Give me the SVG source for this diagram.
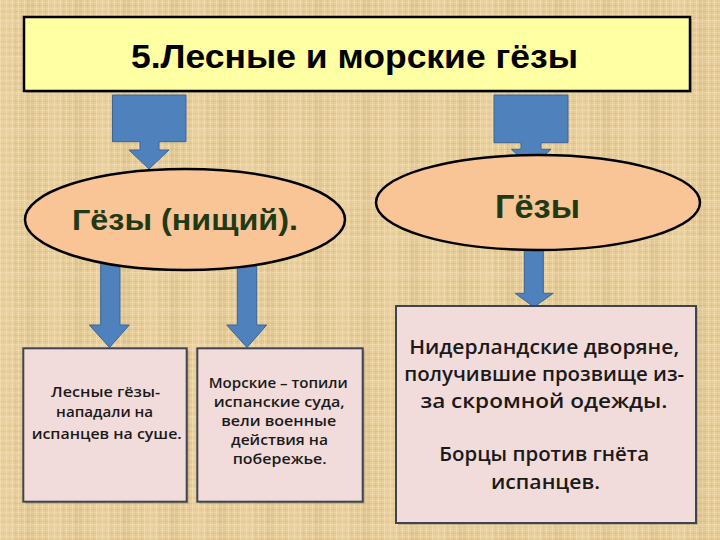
<svg xmlns="http://www.w3.org/2000/svg" width="720" height="540" viewBox="0 0 720 540">
  <defs>
    <pattern id="weave" width="6" height="6" patternUnits="userSpaceOnUse">
      <rect width="6" height="6" fill="#E7CC97"/>
      <rect x="0" y="0" width="1" height="6" fill="#F3E0B8" opacity="0.7"/>
      <rect x="3" y="0" width="1" height="6" fill="#D8BA83" opacity="0.35"/>
      <rect x="0" y="2" width="6" height="1" fill="#F1DCB0" opacity="0.5"/>
      <rect x="0" y="5" width="6" height="1" fill="#D5B57C" opacity="0.35"/>
    </pattern>
    <pattern id="blotch" width="48" height="36" patternUnits="userSpaceOnUse">
      <rect x="0" y="0" width="14" height="36" fill="#F2DDB0" opacity="0.25"/>
      <rect x="27" y="0" width="6" height="36" fill="#CFAE73" opacity="0.18"/>
      <rect x="0" y="20" width="48" height="5" fill="#F4E2BC" opacity="0.2"/>
    </pattern>
  </defs>
  <style>
    .arrow { fill: #4F81BD; stroke: #3B6597; stroke-width: 1; }
    .title { fill: #FFFFA3; stroke: #000; stroke-width: 2.5; }
    .oval { fill: #F9C597; stroke: #000; stroke-width: 2.5; }
    .box { fill: #F2DCDB; stroke: #3F4450; stroke-width: 2; }
    .shadow { fill: #7A6A50; opacity: 0.35; }
    .head { font-family: "Liberation Sans", Arial, sans-serif; font-weight: bold; text-anchor: middle; }
    .ov { font-family: "Liberation Sans", Arial, sans-serif; font-weight: bold; text-anchor: middle; fill: #1F3A17; }
    .bt { font-family: "Open Sans", "Noto Sans", "DejaVu Sans", sans-serif; font-weight: 600; text-anchor: middle; fill: #1A1A1A; }
  </style>

  <rect width="720" height="540" fill="url(#weave)"/>
  <rect width="720" height="540" fill="url(#blotch)"/>

  <g id="connectors">
    <path class="arrow" d="M112.5,95 H186 V141.7 H159 V150 H169 L149,169 L129,150 H140 V141.7 H112.5 Z"/>
    <path class="arrow" d="M494,95 H568 V142.7 H541 V149.3 H551 L531,168 L511.5,149.3 H521 V142.7 H494 Z"/>
    <path class="arrow" d="M100.7,262 H120 V325 H129.3 L109.5,347.5 L89.3,325 H100.7 Z"/>
    <path class="arrow" d="M237.3,262 H256.7 V325 H266.7 L247,347.5 L226.7,325 H237.3 Z"/>
    <path class="arrow" d="M524.3,245 H543.3 V293.3 H553.3 L534,307 L515,293.3 H524.3 Z"/>
  </g>

  <g id="title">
    <rect class="shadow" x="26" y="19" width="666" height="74"/>
    <rect class="title" x="24" y="17" width="666" height="74"/>
    <text class="head" x="354.5" y="68" font-size="33" textLength="447" lengthAdjust="spacingAndGlyphs">5.Лесные и морские гёзы</text>
  </g>

  <g id="oval-left">
    <ellipse class="oval" cx="185" cy="219.5" rx="160" ry="50.5"/>
    <text class="ov" x="185" y="230" font-size="30" textLength="226" lengthAdjust="spacingAndGlyphs">Гёзы (нищий).</text>
  </g>

  <g id="oval-right">
    <ellipse class="oval" cx="538" cy="202.5" rx="162" ry="47.5"/>
    <text class="ov" x="537.5" y="218" font-size="33" textLength="85" lengthAdjust="spacingAndGlyphs">Гёзы</text>
  </g>

  <g id="box-forest">
    <rect class="shadow" x="25.3" y="350.3" width="163.4" height="153.4"/>
    <rect class="box" x="23.3" y="348.3" width="163.4" height="153.4"/>
    <text class="bt" font-size="14.5">
      <tspan x="107.5" y="396.5" textLength="109" lengthAdjust="spacingAndGlyphs">Лесные гёзы-</tspan>
      <tspan x="106.5" y="417" textLength="97" lengthAdjust="spacingAndGlyphs">нападали на</tspan>
      <tspan x="106.7" y="439" textLength="150" lengthAdjust="spacingAndGlyphs">испанцев на  суше.</tspan>
    </text>
  </g>

  <g id="box-sea">
    <rect class="shadow" x="199.3" y="350.3" width="165.4" height="153.4"/>
    <rect class="box" x="197.3" y="348.3" width="165.4" height="153.4"/>
    <text class="bt" font-size="14">
      <tspan x="280" y="387.5" textLength="139" lengthAdjust="spacingAndGlyphs">Морские – топили</tspan>
      <tspan x="281" y="406.5" textLength="131" lengthAdjust="spacingAndGlyphs">испанские суда,</tspan>
      <tspan x="280.5" y="426" textLength="115" lengthAdjust="spacingAndGlyphs">вели военные</tspan>
      <tspan x="281.3" y="445" textLength="97" lengthAdjust="spacingAndGlyphs">действия на</tspan>
      <tspan x="279.7" y="464" textLength="94" lengthAdjust="spacingAndGlyphs">побережье.</tspan>
    </text>
  </g>

  <g id="box-nobles">
    <rect class="shadow" x="398" y="308" width="300" height="217"/>
    <rect class="box" x="396" y="306" width="300" height="217"/>
    <text class="bt" font-size="19.5">
      <tspan x="546.7" y="353.5" textLength="270" lengthAdjust="spacingAndGlyphs">Нидерландские дворяне,</tspan>
      <tspan x="546.7" y="380.5" textLength="280" lengthAdjust="spacingAndGlyphs">получившие прозвище из-</tspan>
      <tspan x="546.5" y="407.5" textLength="247" lengthAdjust="spacingAndGlyphs">за скромной одежды.</tspan>
      <tspan x="546.7" y="461" textLength="210" lengthAdjust="spacingAndGlyphs">Борцы против гнёта</tspan>
      <tspan x="545.5" y="488.5" textLength="109" lengthAdjust="spacingAndGlyphs">испанцев.</tspan>
    </text>
  </g>
</svg>
